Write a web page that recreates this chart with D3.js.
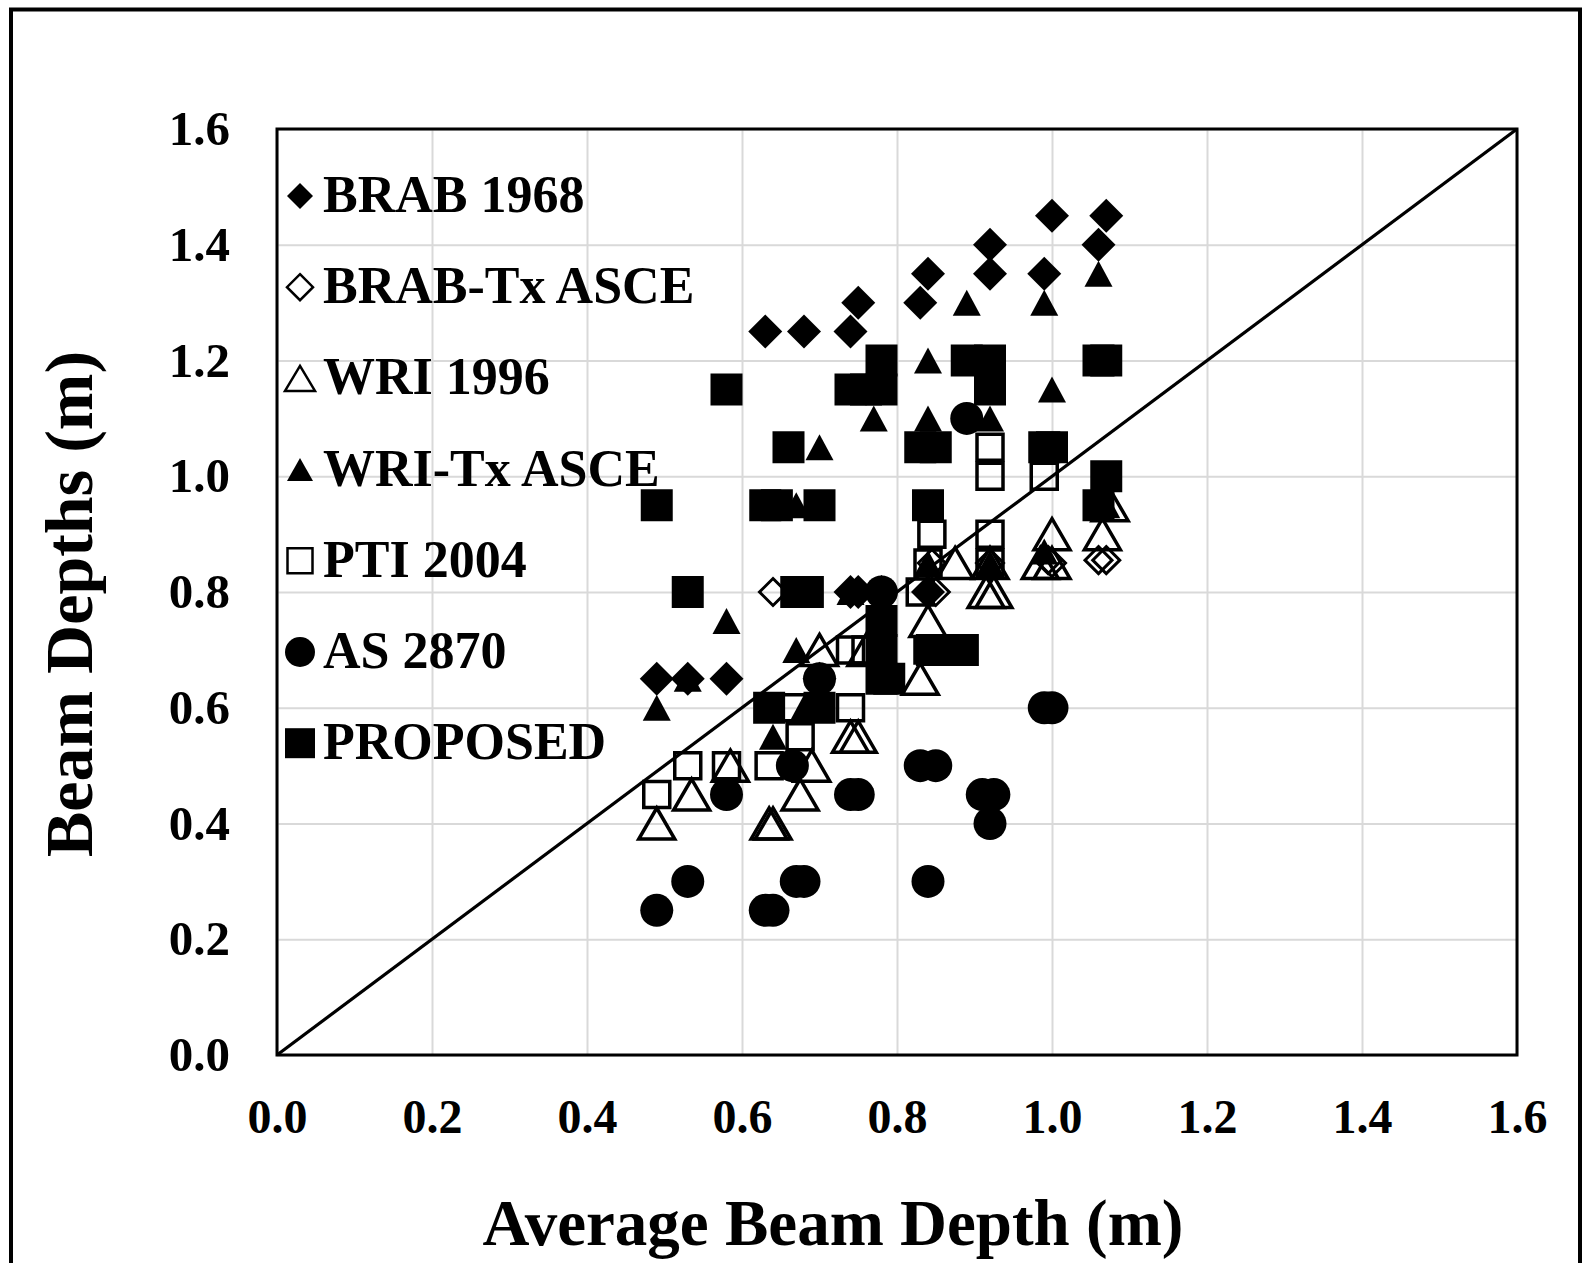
<!DOCTYPE html>
<html>
<head>
<meta charset="utf-8">
<script src="https://cdn.jsdelivr.net/npm/d3@7"></script>
<style>
  body { margin: 0; background: #fff; }
  svg { display: block; }
</style>
</head>
<body>
<svg id="chart" width="1585" height="1263"></svg>
<script>
// series values: [average depth, method depth] in m
var brab1968 = [[0.49,0.65],[0.53,0.65],[0.58,0.65],[0.63,1.25],[0.68,1.25],[0.74,1.25],[0.75,1.30],
  [0.83,1.30],[0.84,1.35],[0.92,1.35],[0.92,1.40],[0.99,1.35],[1.00,1.45],[1.06,1.40],[1.07,1.45],
  [0.74,0.80],[0.75,0.80],[0.78,0.80],[0.70,0.65],[0.84,0.80]];
var brabTx = [[0.64,0.80],[0.78,0.80],[0.845,0.85],[0.85,0.80],[0.92,0.85],[0.995,0.855],[1.00,0.85],
  [1.06,0.855],[1.07,0.855],[0.74,0.80]];
var wri1996 = [[0.49,0.40],[0.535,0.45],[0.585,0.50],[0.635,0.40],[0.64,0.40],[0.675,0.45],[0.69,0.50],
  [0.70,0.70],[0.74,0.55],[0.75,0.55],[0.83,0.65],[0.84,0.75],[0.875,0.85],[0.915,0.80],[0.925,0.80],
  [0.92,0.85],[0.985,0.85],[1.00,0.85],[1.00,0.90],[1.065,0.90],[1.075,0.95],[0.76,0.70]];
var wriTx = [[0.49,0.60],[0.53,0.65],[0.58,0.75],[0.64,0.55],[0.64,0.95],[0.67,0.95],[0.67,0.70],
  [0.70,1.05],[0.77,1.10],[0.84,1.10],[0.84,1.20],[0.89,1.30],[0.92,1.10],[0.99,1.30],[1.00,1.15],
  [1.06,1.35],[0.74,0.80],[0.78,0.75],[0.84,0.85],[0.92,0.85],[0.99,0.87],[1.07,0.95],[0.68,0.60]];
var pti2004 = [[0.49,0.45],[0.53,0.50],[0.58,0.50],[0.635,0.50],[0.635,0.60],[0.67,0.60],[0.675,0.55],
  [0.74,0.60],[0.74,0.70],[0.76,0.70],[0.78,0.75],[0.84,0.70],[0.88,0.70],[0.84,0.85],[0.845,0.90],
  [0.92,0.85],[0.92,0.90],[0.92,1.00],[0.92,1.05],[0.99,1.00],[0.83,0.80]];
var as2870 = [[0.49,0.25],[0.53,0.30],[0.58,0.45],[0.63,0.25],[0.64,0.25],[0.665,0.50],[0.67,0.30],
  [0.68,0.30],[0.74,0.45],[0.75,0.45],[0.83,0.50],[0.85,0.50],[0.84,0.30],[0.89,1.10],[0.91,0.45],
  [0.925,0.45],[0.92,0.40],[0.99,0.60],[1.00,0.60],[0.70,0.65],[0.78,0.80]];
var proposed = [[0.49,0.95],[0.53,0.80],[0.58,1.15],[0.63,0.95],[0.645,0.95],[0.66,1.05],[0.67,0.80],
  [0.685,0.80],[0.70,0.95],[0.74,1.15],[0.76,1.15],[0.78,1.15],[0.78,1.20],[0.83,1.05],[0.85,1.05],
  [0.84,0.95],[0.89,1.20],[0.92,1.20],[0.92,1.15],[0.99,1.05],[1.00,1.05],[1.06,1.20],[1.07,1.20],
  [1.06,0.95],[1.07,1.00],[0.635,0.60],[0.70,0.60],[0.78,0.65],[0.79,0.65],[0.845,0.70],[0.885,0.70],
  [0.78,0.75],[0.78,0.70]];
var seriesNames = ['BRAB 1968','BRAB-Tx ASCE','WRI 1996','WRI-Tx ASCE','PTI 2004','AS 2870','PROPOSED'];
var tickVals = [0.0,0.2,0.4,0.6,0.8,1.0,1.2,1.4,1.6];
var oneToOne = [[0,0],[1.6,1.6]];

var FONT = "'Liberation Serif','Times New Roman',serif";
var svg = d3.select('#chart');

var x = d3.scaleLinear().domain([0,1.6]).range([277,1517]);
var y = d3.scaleLinear().domain([0,1.6]).range([1055,129]);

// marker path builders, s = size in px
function diamond(s){ var h=s/2; return 'M0,'+(-h)+'L'+h+',0L0,'+h+'L'+(-h)+',0Z'; }
function square(s){ var h=s/2; return 'M'+(-h)+','+(-h)+'H'+h+'V'+h+'H'+(-h)+'Z'; }
function triangle(w,ht){ return 'M0,'+(-ht/2)+'L'+(w/2)+','+(ht/2)+'L'+(-w/2)+','+(ht/2)+'Z'; }
function circle(d){ var r=d/2; return 'M'+r+',0A'+r+','+r+' 0 1,1 '+(-r)+',0A'+r+','+r+' 0 1,1 '+r+',0Z'; }

var styles = [
  {data: brab1968, path: diamond(34), lpath: diamond(26), fill: '#000', stroke: 'none'},
  {data: brabTx,   path: diamond(27), lpath: diamond(26), fill: 'none', stroke: '#000', sw: 3},
  {data: wri1996,  path: triangle(36,31), lpath: triangle(30,25), fill: 'none', stroke: '#000', sw: 3.5},
  {data: wriTx,    path: triangle(28,26), lpath: triangle(26,23), fill: '#000', stroke: 'none'},
  {data: pti2004,  path: square(26), lpath: square(25), fill: 'none', stroke: '#000', sw: 3.5},
  {data: as2870,   path: circle(33), lpath: circle(30), fill: '#000', stroke: 'none'},
  {data: proposed, path: square(32), lpath: square(30), fill: '#000', stroke: 'none'}
];

// outer frame
svg.append('rect').attr('x',11).attr('y',9.5).attr('width',1569).attr('height',1270)
  .attr('fill','none').attr('stroke','#000').attr('stroke-width',4);

// grid
svg.append('g').attr('transform','translate(0,1055)')
  .call(d3.axisBottom(x).tickValues(tickVals).tickSize(-926).tickFormat(''))
  .call(g=>g.select('.domain').remove())
  .selectAll('line').attr('stroke','#d9d9d9').attr('stroke-width',2);
svg.append('g').attr('transform','translate(277,0)')
  .call(d3.axisLeft(y).tickValues(tickVals).tickSize(-1240).tickFormat(''))
  .call(g=>g.select('.domain').remove())
  .selectAll('line').attr('stroke','#d9d9d9').attr('stroke-width',2);

// tick labels
var xa = svg.append('g').attr('transform','translate(0,1055)')
  .call(d3.axisBottom(x).tickValues(tickVals).tickSize(0).tickPadding(44).tickFormat(d3.format('.1f')));
xa.select('.domain').remove();
xa.selectAll('text').attr('font-family',FONT).attr('font-weight','bold').attr('font-size',48).attr('fill','#000');
var ya = svg.append('g').attr('transform','translate(277,0)')
  .call(d3.axisLeft(y).tickValues(tickVals).tickSize(0).tickPadding(47).tickFormat(d3.format('.1f')));
ya.select('.domain').remove();
ya.selectAll('text').attr('font-family',FONT).attr('font-weight','bold').attr('font-size',49).attr('fill','#000');

// plot frame
svg.append('rect').attr('x',277).attr('y',129).attr('width',1240).attr('height',926)
  .attr('fill','none').attr('stroke','#000').attr('stroke-width',3);

// points
styles.forEach(function(st, i){
  svg.append('g').attr('class','series s'+i)
    .selectAll('path')
    .data(st.data)
    .enter()
    .append('path')
    .attr('d', st.path)
    .attr('transform', d=>'translate('+x(d[0])+','+y(d[1])+')')
    .attr('fill', st.fill)
    .attr('stroke', st.stroke)
    .attr('stroke-width', st.sw || 0);
});

// 1:1 line
svg.append('path')
  .datum(oneToOne)
  .attr('d', d3.line().x(d=>x(d[0])).y(d=>y(d[1])))
  .attr('stroke','#000').attr('stroke-width',3.2).attr('fill','none');

// legend
var leg = svg.append('g');
styles.forEach(function(st, i){
  var yy = 212 + i*91.2;
  leg.append('path').attr('d', st.lpath)
    .attr('transform','translate(300,'+(yy-16)+')')
    .attr('fill', st.fill).attr('stroke', st.stroke).attr('stroke-width', st.sw ? 2.5 : 0);
  leg.append('text').attr('x',323).attr('y',yy)
    .attr('font-family',FONT).attr('font-weight','bold').attr('font-size',52)
    .text(seriesNames[i]);
});

// axis titles
svg.append('text').attr('x',833).attr('y',1245).attr('text-anchor','middle')
  .attr('font-family',FONT).attr('font-weight','bold').attr('font-size',65)
  .text('Average Beam Depth (m)');
svg.append('text').attr('transform','translate(92,604) rotate(-90)').attr('text-anchor','middle')
  .attr('font-family',FONT).attr('font-weight','bold').attr('font-size',68)
  .text('Beam Depths (m)');
</script>
</body>
</html>
